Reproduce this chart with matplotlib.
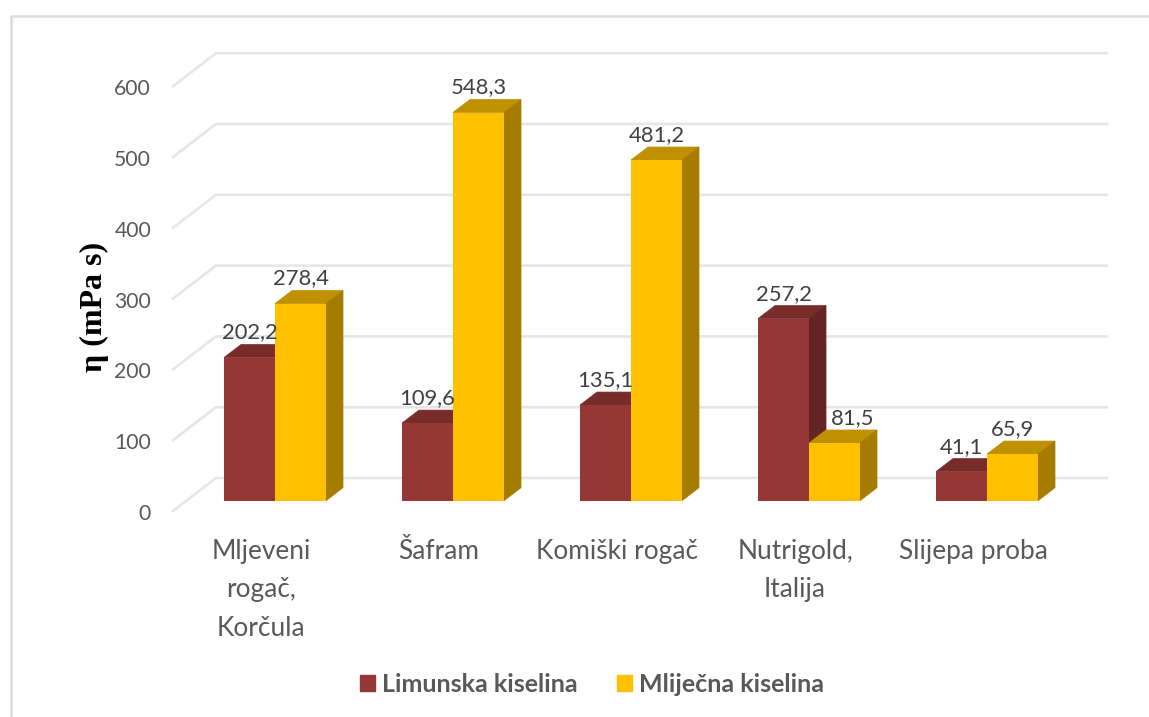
import matplotlib
matplotlib.use('Agg')
import matplotlib.pyplot as plt
from matplotlib.patches import Patch

categories = ['Mljeveni\nrogač,\nKorčula', 'Šafram', 'Komiški rogač', 'Nutrigold,\nItalija', 'Slijepa proba']
limunska = [202.2, 109.6, 135.1, 257.2, 41.1]
mlijecna = [278.4, 548.3, 481.2, 81.5, 65.9]
yticks = [0, 100, 200, 300, 400, 500, 600]
series_names = ['Limunska kiselina', 'Mliječna kiselina']

W, H = 1149, 717
# pixels per category, pixels per value unit
sx = 178.0
sy = 0.708
x0_px = 275.0
y0_px = 500.7

plt.rcParams['font.family'] = ['Lato', 'DejaVu Sans']

fig = plt.figure(figsize=(W / 100, H / 100), dpi=100)
ax = fig.add_axes([0, 0, 1, 1])
ax.set_xlim(-x0_px / sx, (W - x0_px) / sx)
ax.set_ylim(-(H - y0_px) / sy, y0_px / sy)
ax.axis('off')

bw = 51 / sx
dx = 17 / sx
dy = 13 / sy
# grid wall, relative to the front of the bars
wall_left = -59 / sx
wall_right = 832 / sx
wall_dy = 22.7 / sy
floor_left = -102 / sx
floor_dy = -10.3 / sy
grid_c = '#e6e6e6'

for t in yticks:
    ax.plot([floor_left, wall_left, wall_right], [t + floor_dy, t + wall_dy, t + wall_dy],
            color=grid_c, lw=1.9, zorder=1, solid_joinstyle='miter')
    ax.text(floor_left - 22 / sx, t + floor_dy - 3 / sy, str(t), ha='right', va='center',
            fontsize=15.2, color='#595959')


def bar3d(xl, v, front, top, side, z):
    ax.fill([xl, xl + dx, xl + bw + dx, xl + bw], [v, v + dy, v + dy, v], fc=top, ec=top, lw=0.5, zorder=z)
    ax.fill([xl + bw, xl + bw + dx, xl + bw + dx, xl + bw], [0, dy, v + dy, v], fc=side, ec=side, lw=0.5, zorder=z)
    ax.bar(xl, v, bw, align='edge', color=front, zorder=z + 0.2)


for i in range(len(categories)):
    bar3d(i - bw, limunska[i], '#953735', '#772c2a', '#632523', 2)
    bar3d(i, mlijecna[i], '#ffc000', '#bf9000', '#a67c00', 3)
    ax.text(i - bw / 2, limunska[i] + 25 / sy, str(limunska[i]).replace('.', ','), ha='center', va='center',
            fontsize=15.8, color='#404040', zorder=5)
    # the 81,5 label sits to the right, clear of the dark side of the red bar
    shift = 18 / sx if mlijecna[i] == 81.5 else 0
    ax.text(i + bw / 2 + shift, mlijecna[i] + 25 / sy, str(mlijecna[i]).replace('.', ','), ha='center', va='center',
            fontsize=15.8, color='#404040', zorder=5)
    ax.text(i - 14 / sx, -38 / sy, categories[i], ha='center', va='top', fontsize=18.9,
            color='#595959', linespacing=1.68)

fig.text(94 / W, 1 - 306.5 / H, 'η (mPa s)', rotation=90, ha='center', va='center',
         fontsize=23, fontweight='bold', family='Liberation Serif', color='black')

# chart area frame, only top and left show
fig.add_artist(plt.Line2D([10.5 / W, 10.5 / W, 1], [0, 1 - 16 / H, 1 - 16 / H], color='#dcdcdc', lw=1.8))

handles = [Patch(color='#953735'), Patch(color='#ffc000')]
fig.legend(handles, series_names, loc='center', bbox_to_anchor=(592 / W, 1 - 684 / H), ncol=2, frameon=False,
           prop={'family': ['Lato', 'DejaVu Sans'], 'weight': 'bold', 'size': 18}, labelcolor='#595959',
           handlelength=0.6, handleheight=0.6, handletextpad=0.28, columnspacing=1.56)

fig.savefig('out.png', dpi=100)
